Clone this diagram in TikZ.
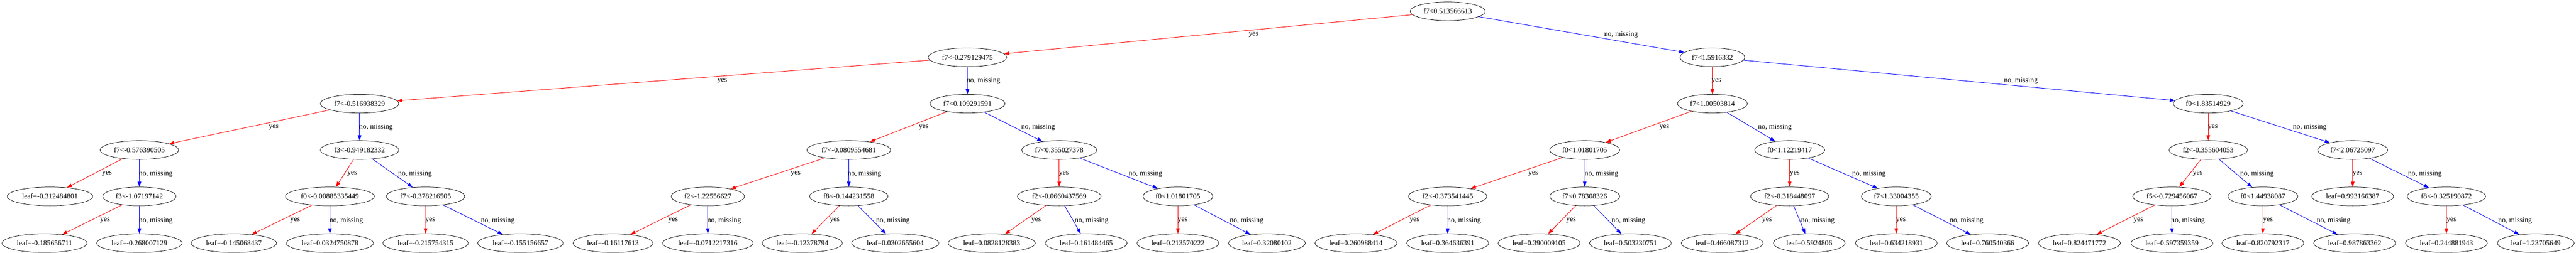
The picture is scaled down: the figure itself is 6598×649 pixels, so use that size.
\documentclass[tikz,border=0pt]{standalone}
\usepackage{fontspec}
\setmainfont{Liberation Serif}
\usetikzlibrary{shapes.geometric,arrows.meta}
\begin{document}
\begin{tikzpicture}[x=0.75pt,y=-0.75pt,
    testnode/.style={draw,ellipse,line width=0.75pt,inner xsep=4.5pt,inner ysep=0pt,minimum height=36pt,font=\fontsize{14}{16}\selectfont},
    leafnode/.style={testnode},
    yesarc/.style={draw=red,line width=0.9pt,-{Triangle[length=10pt,width=7pt,fill=red]}},
    noarc/.style={draw=blue,line width=0.9pt,-{Triangle[length=10pt,width=7pt,fill=blue]}},
    lbl/.style={text=black,inner sep=0pt,font=\fontsize{14}{16}\selectfont}]
    \useasboundingbox (0,0) rectangle (6598,649);

    % Define the positions of the nodes
    \node[testnode] (r) at (3708,29) {f7<0.513566613};

    \node[testnode] (y) at (2478,147) {f7<-0.279129475};
    \node[testnode] (n) at (4386,147) {f7<1.5916332};

    \node[testnode] (yy) at (921,266) {f7<-0.516938329};
    \node[testnode] (yn) at (2478,266) {f7<0.109291591};
    \node[testnode] (ny) at (4386,266) {f7<1.00503814};
    \node[testnode] (nn) at (5656,266) {f0<1.83514929};

    \node[testnode] (yyy) at (357,385) {f7<-0.576390505};
    \node[testnode] (yyn) at (921,385) {f3<-0.949182332};
    \node[testnode] (yny) at (2174,385) {f7<-0.0809554681};
    \node[testnode] (ynn) at (2713,385) {f7<0.355027378};
    \node[testnode] (nyy) at (4059,385) {f0<1.01801705};
    \node[testnode] (nyn) at (4584,385) {f0<1.12219417};
    \node[testnode] (nny) at (5656,385) {f2<-0.355604053};
    \node[testnode] (nnn) at (6026,385) {f7<2.06725097};

    \node[leafnode] (yyyy) at (128,504) {leaf=-0.312484801};
    \node[testnode] (yyyn) at (357,504) {f3<-1.07197142};
    \node[testnode] (yyny) at (845,504) {f0<-0.00885335449};
    \node[testnode] (yynn) at (1090,504) {f7<-0.378216505};
    \node[testnode] (ynyy) at (1813,504) {f2<-1.22556627};
    \node[testnode] (ynyn) at (2174,504) {f8<-0.144231558};
    \node[testnode] (ynny) at (2713,504) {f2<-0.0660437569};
    \node[testnode] (ynnn) at (3017,504) {f0<1.01801705};
    \node[testnode] (nyyy) at (3708,504) {f2<-0.373541445};
    \node[testnode] (nyyn) at (4059,504) {f7<0.78308326};
    \node[testnode] (nyny) at (4584,504) {f2<-0.318448097};
    \node[testnode] (nynn) at (4857,504) {f7<1.33004355};
    \node[testnode] (nnyy) at (5563,504) {f5<-0.729456067};
    \node[testnode] (nnyn) at (5796,504) {f0<1.44938087};
    \node[leafnode] (nnny) at (6026,504) {leaf=0.993166387};
    \node[testnode] (nnnn) at (6266,504) {f8<-0.325190872};

    \node[leafnode] (yyyny) at (114,624) {leaf=-0.185656711};
    \node[leafnode] (yyynn) at (357,624) {leaf=-0.268007129};
    \node[leafnode] (yynyy) at (599,624) {leaf=-0.145068437};
    \node[leafnode] (yynyn) at (845,624) {leaf=0.0324750878};
    \node[leafnode] (yynny) at (1090,624) {leaf=-0.215754315};
    \node[leafnode] (yynnn) at (1333,624) {leaf=-0.155156657};
    \node[leafnode] (ynyyy) at (1570,624) {leaf=-0.16117613};
    \node[leafnode] (ynyyn) at (1813,624) {leaf=-0.0712217316};
    \node[leafnode] (ynyny) at (2055,624) {leaf=-0.12378794};
    \node[leafnode] (ynynn) at (2293,624) {leaf=0.0302655604};
    \node[leafnode] (ynnyy) at (2540,624) {leaf=0.0828128383};
    \node[leafnode] (ynnyn) at (2782,624) {leaf=0.161484465};
    \node[leafnode] (ynnny) at (3017,624) {leaf=0.213570222};
    \node[leafnode] (ynnnn) at (3245,624) {leaf=0.32080102};
    \node[leafnode] (nyyyy) at (3473,624) {leaf=0.260988414};
    \node[leafnode] (nyyyn) at (3708,624) {leaf=0.364636391};
    \node[leafnode] (nyyny) at (3942,624) {leaf=0.390009105};
    \node[leafnode] (nyynn) at (4176,624) {leaf=0.503230751};
    \node[leafnode] (nynyy) at (4411,624) {leaf=0.466087312};
    \node[leafnode] (nynyn) at (4634,624) {leaf=0.5924806};
    \node[leafnode] (nynny) at (4857,624) {leaf=0.634218931};
    \node[leafnode] (nynnn) at (5091,624) {leaf=0.760540366};
    \node[leafnode] (nnyyy) at (5326,624) {leaf=0.824471772};
    \node[leafnode] (nnyyn) at (5563,624) {leaf=0.597359359};
    \node[leafnode] (nnyny) at (5796,624) {leaf=0.820792317};
    \node[leafnode] (nnynn) at (6031,624) {leaf=0.987863362};
    \node[leafnode] (nnnny) at (6266,624) {leaf=0.244881943};
    \node[leafnode] (nnnnn) at (6495,624) {leaf=1.23705649};

    % Draw the edges
    \draw[yesarc] (r) -- (y) node[lbl] (ly) at (3211,89) {yes};
    \draw[noarc] (r) -- (n) node[lbl] (ln) at (4152,89) {no, missing};

    \draw[yesarc] (y) -- (yy) node[lbl] (lyy) at (1850,208) {yes};
    \draw[noarc] (y) -- (yn) node[lbl] (lyn) at (2519,208) {no, missing};
    \draw[yesarc] (n) -- (ny) node[lbl] (lny) at (4396,208) {yes};
    \draw[noarc] (n) -- (nn) node[lbl] (lnn) at (5176,208) {no, missing};

    \draw[yesarc] (yy) -- (yyy) node[lbl] (lyyy) at (701,327) {yes};
    \draw[noarc] (yy) -- (yyn) node[lbl] (lyyn) at (963,327) {no, missing};
    \draw[yesarc] (yn) -- (yny) node[lbl] (lyny) at (2366,327) {yes};
    \draw[noarc] (yn) -- (ynn) node[lbl] (lynn) at (2659,327) {no, missing};
    \draw[yesarc] (ny) -- (nyy) node[lbl] (lnyy) at (4263,327) {yes};
    \draw[noarc] (ny) -- (nyn) node[lbl] (lnyn) at (4546,327) {no, missing};
    \draw[yesarc] (nn) -- (nny) node[lbl] (lnny) at (5668,327) {yes};
    \draw[noarc] (nn) -- (nnn) node[lbl] (lnnn) at (5916,327) {no, missing};

    \draw[yesarc] (yyy) -- (yyyy) node[lbl] (lyyyy) at (274,446) {yes};
    \draw[noarc] (yyy) -- (yyyn) node[lbl] (lyyyn) at (399,446) {no, missing};
    \draw[yesarc] (yyn) -- (yyny) node[lbl] (lyyny) at (902,446) {yes};
    \draw[noarc] (yyn) -- (yynn) node[lbl] (lyynn) at (1063,446) {no, missing};
    \draw[yesarc] (yny) -- (ynyy) node[lbl] (lynyy) at (2038,446) {yes};
    \draw[noarc] (yny) -- (ynyn) node[lbl] (lynyn) at (2214,446) {no, missing};
    \draw[yesarc] (ynn) -- (ynny) node[lbl] (lynny) at (2725,446) {yes};
    \draw[noarc] (ynn) -- (ynnn) node[lbl] (lynnn) at (2934,446) {no, missing};
    \draw[yesarc] (nyy) -- (nyyy) node[lbl] (lnyyy) at (3927,446) {yes};
    \draw[noarc] (nyy) -- (nyyn) node[lbl] (lnyyn) at (4102,446) {no, missing};
    \draw[yesarc] (nyn) -- (nyny) node[lbl] (lnyny) at (4597,446) {yes};
    \draw[noarc] (nyn) -- (nynn) node[lbl] (lnynn) at (4787,446) {no, missing};
    \draw[yesarc] (nny) -- (nnyy) node[lbl] (lnnyy) at (5629,446) {yes};
    \draw[noarc] (nny) -- (nnyn) node[lbl] (lnnyn) at (5781,446) {no, missing};
    \draw[yesarc] (nnn) -- (nnny) node[lbl] (lnnny) at (6038,446) {yes};
    \draw[noarc] (nnn) -- (nnnn) node[lbl] (lnnnn) at (6211,446) {no, missing};

    \draw[yesarc] (yyyn) -- (yyyny) node[lbl] (lyyyny) at (269,566) {yes};
    \draw[noarc] (yyyn) -- (yyynn) node[lbl] (lyyynn) at (399,566) {no, missing};
    \draw[yesarc] (yyny) -- (yynyy) node[lbl] (lyynyy) at (756,566) {yes};
    \draw[noarc] (yyny) -- (yynyn) node[lbl] (lyynyn) at (887,566) {no, missing};
    \draw[yesarc] (yynn) -- (yynny) node[lbl] (lyynny) at (1102,566) {yes};
    \draw[noarc] (yynn) -- (yynnn) node[lbl] (lyynnn) at (1275,566) {no, missing};
    \draw[yesarc] (ynyy) -- (ynyyy) node[lbl] (lynyyy) at (1724,566) {yes};
    \draw[noarc] (ynyy) -- (ynyyn) node[lbl] (lynyyn) at (1855,566) {no, missing};
    \draw[yesarc] (ynyn) -- (ynyny) node[lbl] (lynyny) at (2138,566) {yes};
    \draw[noarc] (ynyn) -- (ynynn) node[lbl] (lynynn) at (2287,566) {no, missing};
    \draw[yesarc] (ynny) -- (ynnyy) node[lbl] (lynnyy) at (2654,566) {yes};
    \draw[noarc] (ynny) -- (ynnyn) node[lbl] (lynnyn) at (2796,566) {no, missing};
    \draw[yesarc] (ynnn) -- (ynnny) node[lbl] (lynnny) at (3029,566) {yes};
    \draw[noarc] (ynnn) -- (ynnnn) node[lbl] (lynnnn) at (3193,566) {no, missing};
    \draw[yesarc] (nyyy) -- (nyyyy) node[lbl] (lnyyyy) at (3623,566) {yes};
    \draw[noarc] (nyyy) -- (nyyyn) node[lbl] (lnyyyn) at (3750,566) {no, missing};
    \draw[yesarc] (nyyn) -- (nyyny) node[lbl] (lnyyny) at (4024,566) {yes};
    \draw[noarc] (nyyn) -- (nyynn) node[lbl] (lnyynn) at (4171,566) {no, missing};
    \draw[yesarc] (nyny) -- (nynyy) node[lbl] (lnynyy) at (4526,566) {yes};
    \draw[noarc] (nyny) -- (nynyn) node[lbl] (lnynyn) at (4656,566) {no, missing};
    \draw[yesarc] (nynn) -- (nynny) node[lbl] (lnynny) at (4869,566) {yes};
    \draw[noarc] (nynn) -- (nynnn) node[lbl] (lnynnn) at (5037,566) {no, missing};
    \draw[yesarc] (nnyy) -- (nnyyy) node[lbl] (lnnyyy) at (5477,566) {yes};
    \draw[noarc] (nnyy) -- (nnyyn) node[lbl] (lnnyyn) at (5604,566) {no, missing};
    \draw[yesarc] (nnyn) -- (nnyny) node[lbl] (lnnyny) at (5809,566) {yes};
    \draw[noarc] (nnyn) -- (nnynn) node[lbl] (lnnynn) at (5977,566) {no, missing};
    \draw[yesarc] (nnnn) -- (nnnny) node[lbl] (lnnnny) at (6279,566) {yes};
    \draw[noarc] (nnnn) -- (nnnnn) node[lbl] (lnnnnn) at (6442,566) {no, missing};
\end{tikzpicture}
\end{document}
